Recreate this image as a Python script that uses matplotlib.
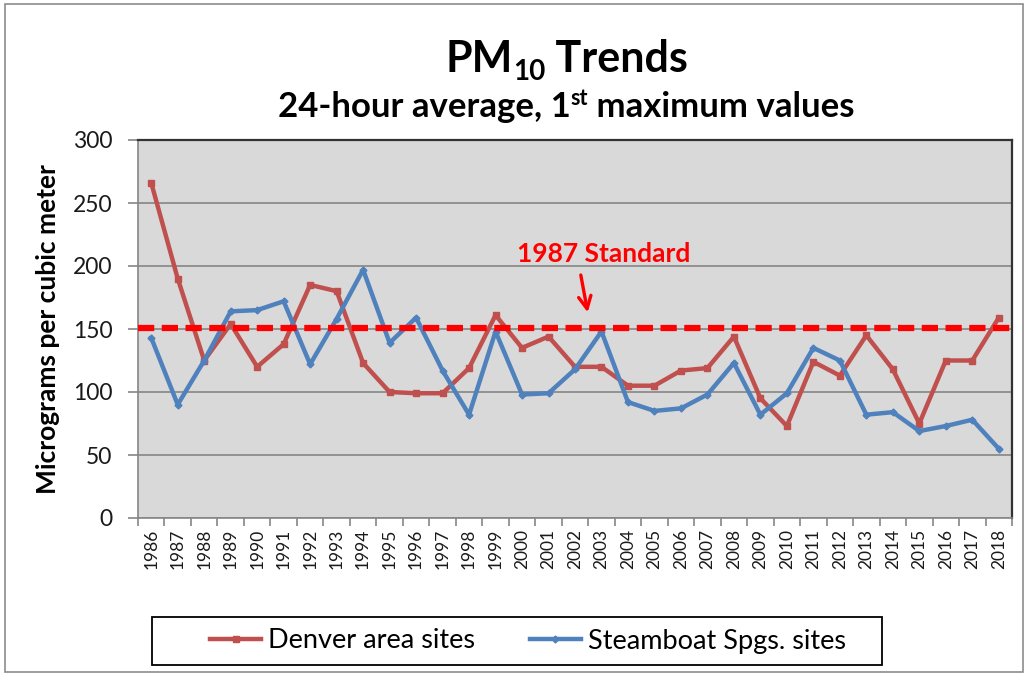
import matplotlib
matplotlib.use("Agg")
import matplotlib.pyplot as plt
from matplotlib.patches import Rectangle

years = [str(y) for y in range(1986, 2019)]
denver = [266, 190, 125, 154, 120, 138, 185, 180, 123, 100, 99, 99, 119, 161, 135, 144,
          120, 120, 105, 105, 117, 119, 144, 95, 73, 124, 113, 145, 118, 75, 125, 125, 159]
steamboat = [143, 90, 125, 164, 165, 172, 122, 158, 197, 139, 159, 117, 82, 148, 98, 99,
             118, 148, 92, 85, 87, 98, 123, 82, 99, 135, 125, 82, 84, 69, 73, 78, 55]
standard = 151
series_names = ["Denver area sites", "Steamboat Spgs. sites"]
y_ticks = [0, 50, 100, 150, 200, 250, 300]

FONT = "Lato"
plt.rcParams["font.family"] = [FONT, "DejaVu Sans"]

W, H = 1030, 675
fig = plt.figure(figsize=(W / 100, H / 100), dpi=100)
fig.patch.set_facecolor("white")

# outer chart border
fig.patches.append(Rectangle((5 / W, 3 / H), 1018 / W, 668 / H, transform=fig.transFigure,
                             fill=False, edgecolor="#8c8c8c", linewidth=1.2))

L, R, T, B = 138, 1012, 140, 518
ax = fig.add_axes([L / W, 1 - B / H, (R - L) / W, (B - T) / H])
ax.set_facecolor("#d9d9d9")

x = list(range(len(years)))
red = "#c0504d"
blue = "#4f81bd"
ax.plot(x, denver, color=red, lw=3.2, marker="s", ms=4, mec=red, mfc=red,
        label=series_names[0], zorder=3, solid_joinstyle="round")
ax.plot(x, steamboat, color=blue, lw=3.2, marker="D", ms=3.5, mec=blue, mfc=blue,
        label=series_names[1], zorder=4, solid_joinstyle="round")
ax.axhline(standard, color="#ff0000", lw=4.5, dashes=(2.6, 1.2), zorder=5)

ax.set_xlim(-0.5, len(years) - 0.5)
ax.set_ylim(0, 300)
ax.set_yticks(y_ticks)
ax.set_yticklabels([str(v) for v in y_ticks], fontsize=16.5, color="#1a1a1a")
ax.yaxis.grid(True, color="#868686", lw=1.2)
ax.set_axisbelow(True)

ax.set_xticks(x)
ax.set_xticklabels(years, rotation=90, fontsize=12.5, color="#1a1a1a")
ax.tick_params(axis="x", which="major", length=0, pad=8)
ax.set_xticks([i - 0.5 for i in range(len(years) + 1)], minor=True)
ax.tick_params(axis="x", which="minor", length=6, color="#868686", width=1.2)
ax.tick_params(axis="y", length=7.5, color="#868686", width=1.2, pad=11)

for side in ["left", "bottom"]:
    ax.spines[side].set_color("#868686")
    ax.spines[side].set_linewidth(1.2)
for side in ["top", "right"]:
    ax.spines[side].set_color("#333333")
    ax.spines[side].set_linewidth(1.6)

ax.set_ylabel("Micrograms per cubic meter", fontsize=19, fontweight="bold", labelpad=9)

# annotation
ax.annotate("", xy=(16.5, 161), xytext=(16.2, 195),
            arrowprops=dict(arrowstyle="->,head_length=0.9,head_width=0.45", color="#ff0000", lw=2.4))
ax.text(17.1, 203, "1987 Standard", color="#ff0000", fontsize=19, fontweight="bold",
        ha="center", va="baseline")

# legend (frame drawn separately to match fixed box)
fig.patches.append(Rectangle((152 / W, 1 - 665 / H), 730 / W, 48 / H, transform=fig.transFigure,
                             fill=False, edgecolor="black", linewidth=1.3))
leg = fig.legend(loc="center", bbox_to_anchor=(528 / W, 1 - 641 / H), ncol=2,
                 fontsize=19.5, frameon=False,
                 handlelength=1.9, columnspacing=2.0, handletextpad=0.26,
                 borderpad=0.2, borderaxespad=0)

# titles built from pieces (sub/superscripts)
fig.canvas.draw()
renderer = fig.canvas.get_renderer()

def rich_text(pieces, cx, base_y):
    texts = []
    for s, size, dy in pieces:
        t = fig.text(0, 0, s, fontsize=size, fontweight="bold", ha="left", va="baseline",
                     transform=None)
        texts.append((t, dy))
    widths = [t.get_window_extent(renderer).width for t, dy in texts]
    total = sum(widths)
    xpos = cx - total / 2
    for (t, dy), w in zip(texts, widths):
        t.set_position((xpos, H - base_y + dy))
        xpos += w

rich_text([("PM", 31, 0), ("10", 20, -8), (" Trends", 31, 0)], 567, 72)
rich_text([("24-hour average, 1", 25, 0), ("st", 15.5, 12), (" maximum values", 25, 0)], 566, 117)

fig.savefig("out.png", dpi=100)
